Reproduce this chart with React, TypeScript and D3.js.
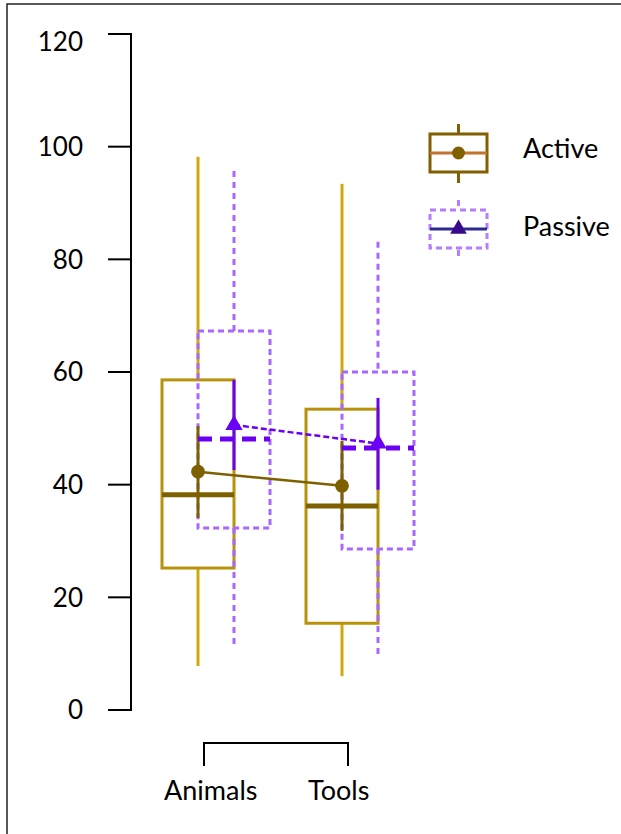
import React, { useEffect, useRef } from 'react';
import * as d3 from 'd3';

const categories = ['Animals', 'Tools'];
const seriesNames = ['Active', 'Passive'];

// Active
const activeMin = [7.8, 6.0];
const activeQ1 = [25.2, 15.4];
const activeMedian = [38.2, 36.2];
const activeQ3 = [58.6, 53.4];
const activeMax = [98.2, 93.4];
const activeMean = [42.3, 39.8];
const activeErrLow = [34.1, 31.8];
const activeErrHigh = [50.4, 47.8];

// Passive
const passiveMin = [11.2, 9.4];
const passiveQ1 = [32.3, 28.6];
const passiveMedian = [48.1, 46.5];
const passiveQ3 = [67.3, 60.0];
const passiveMax = [95.7, 83.1];
const passiveMean = [50.6, 47.3];
const passiveErrLow = [42.6, 39.1];
const passiveErrHigh = [58.6, 55.4];

const yTicks = [0, 20, 40, 60, 80, 100, 120];

const FONT = 'Lato, "Open Sans", sans-serif';

const App = () => {
  const svgRef = useRef(null);

  useEffect(() => {
    const svg = d3.select(svgRef.current);
    svg.selectAll('*').remove();

    const y = d3.scaleLinear().domain([0, 120]).range([710, 34]);
    const x = d3.scalePoint().domain(categories).range([216, 360]);
    const sub = d3.scalePoint().domain(seriesNames).range([-18, 18]);
    const halfW = 36;

    // frame
    svg.append('rect')
      .attr('x', 7).attr('y', 4)
      .attr('width', 700).attr('height', 900)
      .attr('fill', 'white')
      .attr('stroke', '#222').attr('stroke-width', 1.5);

    // y axis
    const yAxis = svg.append('g');
    yAxis.append('line')
      .attr('x1', 131).attr('x2', 131)
      .attr('y1', y(120)).attr('y2', y(0))
      .attr('stroke', 'black').attr('stroke-width', 2);
    yTicks.forEach(t => {
      yAxis.append('line')
        .attr('x1', 108).attr('x2', 132)
        .attr('y1', y(t)).attr('y2', y(t))
        .attr('stroke', 'black').attr('stroke-width', 2);
      yAxis.append('text')
        .attr('x', 83).attr('y', y(t) + (t === 120 ? 8 : 0))
        .attr('dy', '0.36em')
        .attr('text-anchor', 'end')
        .style('font-family', FONT).style('font-size', '26px')
        .text(t);
    });

    // x bracket
    const bx0 = x(categories[0]) - 12;
    const bx1 = x(categories[categories.length - 1]) - 12;
    svg.append('path')
      .attr('d', `M${bx0},766 V743 H${bx1} V766`)
      .attr('fill', 'none').attr('stroke', 'black').attr('stroke-width', 2);
    categories.forEach(c => {
      svg.append('text')
        .attr('x', x(c) - 52).attr('y', 800)
        .style('font-family', FONT).style('font-size', '27px')
        .text(c);
    });

    const series = [
      {
        name: 'Active', min: activeMin, q1: activeQ1, med: activeMedian, q3: activeQ3, max: activeMax,
        mean: activeMean, lo: activeErrLow, hi: activeErrHigh,
        boxColor: '#B8920A', whiskerColor: '#D1A80A', markColor: '#7F6000',
        boxDash: null, whiskerDash: null, medDash: null, lineDash: null, connectW: 2.5
      },
      {
        name: 'Passive', min: passiveMin, q1: passiveQ1, med: passiveMedian, q3: passiveQ3, max: passiveMax,
        mean: passiveMean, lo: passiveErrLow, hi: passiveErrHigh,
        boxColor: '#A868FF', whiskerColor: '#A868FF', markColor: '#6A00F4',
        boxDash: '6,4', whiskerDash: '6,5', medDash: '14,8', lineDash: '6,3', connectW: 2.5
      }
    ];

    // boxes & whiskers
    series.forEach(s => {
      const g = svg.append('g');
      categories.forEach((c, i) => {
        const cx = x(c) + sub(s.name);
        g.append('line')
          .attr('x1', cx).attr('x2', cx)
          .attr('y1', y(s.max[i])).attr('y2', y(s.q3[i]))
          .attr('stroke', s.whiskerColor).attr('stroke-width', 3)
          .attr('stroke-dasharray', s.whiskerDash);
        g.append('line')
          .attr('x1', cx).attr('x2', cx)
          .attr('y1', y(s.q1[i])).attr('y2', y(s.min[i]))
          .attr('stroke', s.whiskerColor).attr('stroke-width', 3)
          .attr('stroke-dasharray', s.whiskerDash);
        g.append('rect')
          .attr('x', cx - halfW).attr('y', y(s.q3[i]))
          .attr('width', halfW * 2).attr('height', y(s.q1[i]) - y(s.q3[i]))
          .attr('fill', 'none')
          .attr('stroke', s.boxColor).attr('stroke-width', 3)
          .attr('stroke-dasharray', s.boxDash);
      });
    });

    // medians, error bars, means
    series.forEach(s => {
      const g = svg.append('g');
      categories.forEach((c, i) => {
        const cx = x(c) + sub(s.name);
        g.append('line')
          .attr('x1', cx - halfW).attr('x2', cx + halfW)
          .attr('y1', y(s.med[i])).attr('y2', y(s.med[i]))
          .attr('stroke', s.markColor).attr('stroke-width', 5)
          .attr('stroke-dasharray', s.medDash);
        g.append('line')
          .attr('x1', cx).attr('x2', cx)
          .attr('y1', y(s.hi[i])).attr('y2', y(s.lo[i]))
          .attr('stroke', s.markColor).attr('stroke-width', 3);
      });

      const line = d3.line()
        .x((d, i) => x(categories[i]) + sub(s.name))
        .y(d => y(d));
      g.append('path')
        .datum(s.mean)
        .attr('d', line)
        .attr('fill', 'none')
        .attr('stroke', s.markColor).attr('stroke-width', s.connectW)
        .attr('stroke-dasharray', s.lineDash);

      const sym = s.name === 'Active' ? d3.symbolCircle : d3.symbolTriangle;
      const size = s.name === 'Active' ? 150 : 130;
      g.selectAll('.mean')
        .data(s.mean)
        .enter()
        .append('path')
        .attr('d', d3.symbol(sym, size))
        .attr('transform', (d, i) => `translate(${x(categories[i]) + sub(s.name)},${y(d)})`)
        .attr('fill', s.markColor);
    });

    // legend
    const legend = svg.append('g');
    const lx = 458.5, lw = 57;
    const legendItems = [
      { name: 'Active', cy: 153, ty: 148, box: '#806000', dash: null, line: '#C0742E', mark: '#806000', sym: d3.symbolCircle, size: 130 },
      { name: 'Passive', cy: 229, ty: 226, box: '#B57DFF', dash: '6,4', line: '#2A2A90', mark: '#3A0A8C', sym: d3.symbolTriangle, size: 120 }
    ];
    legendItems.forEach(it => {
      legend.append('line')
        .attr('x1', lx).attr('x2', lx)
        .attr('y1', it.cy - 29).attr('y2', it.cy + 30)
        .attr('stroke', it.box).attr('stroke-width', 3)
        .attr('stroke-dasharray', it.dash);
      legend.append('rect')
        .attr('x', lx - lw / 2).attr('y', it.cy - 19)
        .attr('width', lw).attr('height', 38)
        .attr('fill', 'white')
        .attr('stroke', it.box).attr('stroke-width', 3)
        .attr('stroke-dasharray', it.dash);
      legend.append('line')
        .attr('x1', lx - lw / 2).attr('x2', lx + lw / 2)
        .attr('y1', it.cy).attr('y2', it.cy)
        .attr('stroke', it.line).attr('stroke-width', 3);
      legend.append('path')
        .attr('d', d3.symbol(it.sym, it.size))
        .attr('transform', `translate(${lx},${it.cy})`)
        .attr('fill', it.mark);
      legend.append('text')
        .attr('x', 523).attr('y', it.ty)
        .attr('dy', '0.36em')
        .style('font-family', FONT).style('font-size', '27px')
        .text(it.name);
    });
  }, []);

  return (
    <div style={{ position: 'absolute', left: 0, top: 0 }}>
      <svg ref={svgRef} width={621} height={834} style={{ display: 'block' }}></svg>
    </div>
  );
};

export default App;
